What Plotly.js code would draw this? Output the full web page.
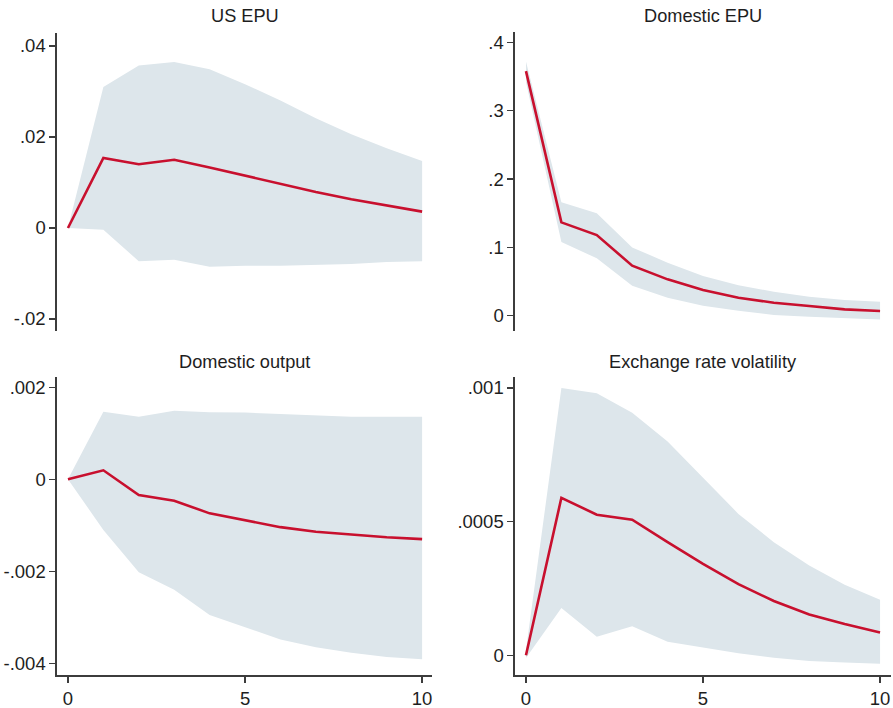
<!DOCTYPE html>
<html>
<head>
<meta charset="utf-8">
<script src="https://cdn.plot.ly/plotly-3.0.1.min.js"></script>
<style>html,body{margin:0;padding:0;background:#fff;}#chart{width:893px;height:708px;}</style>
</head>
<body>
<div id="chart"></div>
<script>
// Horizon (periods)
const horizon = [0, 1, 2, 3, 4, 5, 6, 7, 8, 9, 10];

// Panel titles
const panelTitles = ["US EPU", "Domestic EPU", "Domestic output", "Exchange rate volatility"];

// US EPU response
const usEpuIrf   = [0, 0.0154, 0.0140, 0.0150, 0.0133, 0.0115, 0.0097, 0.0079, 0.0063, 0.0050, 0.0036];
const usEpuUpper = [0, 0.0310, 0.0357, 0.0365, 0.0349, 0.0316, 0.0280, 0.0241, 0.0206, 0.0175, 0.0147];
const usEpuLower = [0, -0.0004, -0.0073, -0.0070, -0.0085, -0.0083, -0.0083, -0.0081, -0.0079, -0.0075, -0.0073];

// Domestic EPU response
const domEpuIrf   = [0.358, 0.1366, 0.118, 0.0732, 0.0532, 0.0376, 0.0263, 0.019, 0.0141, 0.0093, 0.0068];
const domEpuUpper = [0.372, 0.166, 0.150, 0.100, 0.0776, 0.058, 0.0444, 0.0351, 0.0278, 0.023, 0.0205];
const domEpuLower = [0.342, 0.108, 0.084, 0.044, 0.0263, 0.0146, 0.0073, 0.001, -0.0015, -0.004, -0.0054];

// Domestic output response
const outputIrf   = [0, 0.000196, -0.00034, -0.000464, -0.00074, -0.00089, -0.00104, -0.00114, -0.0012, -0.00126, -0.0013];
const outputUpper = [0, 0.00147, 0.00136, 0.00149, 0.00146, 0.00145, 0.00142, 0.00139, 0.00136, 0.00136, 0.00136];
const outputLower = [0, -0.0011, -0.00202, -0.0024, -0.00295, -0.00322, -0.00348, -0.00365, -0.00377, -0.00386, -0.00391];

// Exchange rate volatility response
const exrIrf   = [0, 0.000589, 0.000526, 0.000507, 0.000423, 0.000342, 0.000266, 0.000203, 0.000153, 0.000117, 0.0000856];
const exrUpper = [0.00002, 0.001, 0.00098, 0.000907, 0.0008, 0.000665, 0.000529, 0.000423, 0.000336, 0.000264, 0.000208];
const exrLower = [-0.00001, 0.000177, 0.0000695, 0.000109, 0.0000509, 0.0000298, 0.0000074, -0.0000087, -0.000021, -0.000027, -0.000032];

// Tick values / labels
const usEpuTicks = [-0.02, 0, 0.02, 0.04];
const usEpuTickText = ["-.02", "0", ".02", ".04"];
const domEpuTicks = [0, 0.1, 0.2, 0.3, 0.4];
const domEpuTickText = ["0", ".1", ".2", ".3", ".4"];
const outputTicks = [-0.004, -0.002, 0, 0.002];
const outputTickText = ["-.004", "-.002", "0", ".002"];
const exrTicks = [0, 0.0005, 0.001];
const exrTickText = ["0", ".0005", ".001"];
const xTicks = [0, 5, 10];
const xTickText = ["0", "5", "10"];

const BAND = "#dde6eb";
const LINE = "#c8102e";
const AXIS = "#3c3c3c";
const TEXT = "#1e1e1e";
const FONT = "Liberation Sans, Arial, sans-serif";

const panels = [
  {irf: usEpuIrf, up: usEpuUpper, lo: usEpuLower, xa: "x", ya: "y"},
  {irf: domEpuIrf, up: domEpuUpper, lo: domEpuLower, xa: "x2", ya: "y2"},
  {irf: outputIrf, up: outputUpper, lo: outputLower, xa: "x3", ya: "y3"},
  {irf: exrIrf, up: exrUpper, lo: exrLower, xa: "x4", ya: "y4"}
];

const data = [];
panels.forEach(p => {
  data.push({x: horizon, y: p.up, xaxis: p.xa, yaxis: p.ya, type: "scatter", mode: "lines",
    line: {width: 0, color: BAND}, hoverinfo: "skip", showlegend: false});
  data.push({x: horizon, y: p.lo, xaxis: p.xa, yaxis: p.ya, type: "scatter", mode: "lines",
    line: {width: 0, color: BAND}, fill: "tonexty", fillcolor: BAND, hoverinfo: "skip", showlegend: false});
  data.push({x: horizon, y: p.irf, xaxis: p.xa, yaxis: p.ya, type: "scatter", mode: "lines",
    line: {width: 2.6, color: LINE}, showlegend: false});
});

function yAx(domain, range, vals, text) {
  return {domain: domain, range: range, tickvals: vals, ticktext: text, showline: true, linecolor: AXIS,
    linewidth: 1.6, ticks: "outside", ticklen: 6, tickwidth: 1.4, tickcolor: AXIS, showgrid: false,
    zeroline: false, tickfont: {family: FONT, size: 18.5, color: TEXT}, fixedrange: true};
}
function xAx(domain, range, anchor, show) {
  return {domain: domain, range: range, anchor: anchor, tickvals: xTicks, ticktext: xTickText,
    showline: show, linecolor: AXIS, linewidth: 1.6, ticks: show ? "outside" : "", ticklen: 6, tickwidth: 1.4,
    tickcolor: AXIS, showticklabels: show, showgrid: false, zeroline: false,
    tickfont: {family: FONT, size: 18.5, color: TEXT}, fixedrange: true};
}

const leftX = [0.0638, 0.4838];
const rightX = [0.5767, 0.9978];
const topY = [0.5325, 0.9534];
const botY = [0.0466, 0.4679];

const layout = {
  width: 893, height: 708,
  margin: {l: 0, r: 0, t: 0, b: 0},
  paper_bgcolor: "#ffffff", plot_bgcolor: "#ffffff",
  showlegend: false,
  xaxis: xAx(leftX, [-0.31, 10.28], "y", false),
  yaxis: Object.assign(yAx(topY, [-0.02264, 0.04286], usEpuTicks, usEpuTickText), {anchor: "x"}),
  xaxis2: xAx(rightX, [-0.31, 10.31], "y2", false),
  yaxis2: Object.assign(yAx([0.5325, 0.9553], [-0.0224, 0.4158], domEpuTicks, domEpuTickText), {anchor: "x2"}),
  xaxis3: xAx(leftX, [-0.31, 10.28], "y3", true),
  yaxis3: Object.assign(yAx(botY, [-0.004254, 0.00223], outputTicks, outputTickText), {anchor: "x3"}),
  xaxis4: xAx(rightX, [-0.31, 10.31], "y4", true),
  yaxis4: Object.assign(yAx(botY, [-0.0000737, 0.001042], exrTicks, exrTickText), {anchor: "x4"}),
  annotations: [
    {text: panelTitles[0], x: (leftX[0] + leftX[1]) / 2, y: 1 - 16 / 708},
    {text: panelTitles[1], x: (rightX[0] + rightX[1]) / 2, y: 1 - 16 / 708},
    {text: panelTitles[2], x: (leftX[0] + leftX[1]) / 2, y: 1 - 361.5 / 708},
    {text: panelTitles[3], x: (rightX[0] + rightX[1]) / 2, y: 1 - 361.5 / 708}
  ].map(a => Object.assign(a, {xref: "paper", yref: "paper", showarrow: false, xanchor: "center",
    yanchor: "middle", font: {family: FONT, size: 18.2, color: TEXT}}))
};

Plotly.newPlot("chart", data, layout, {displayModeBar: false, staticPlot: true});
</script>
</body>
</html>
